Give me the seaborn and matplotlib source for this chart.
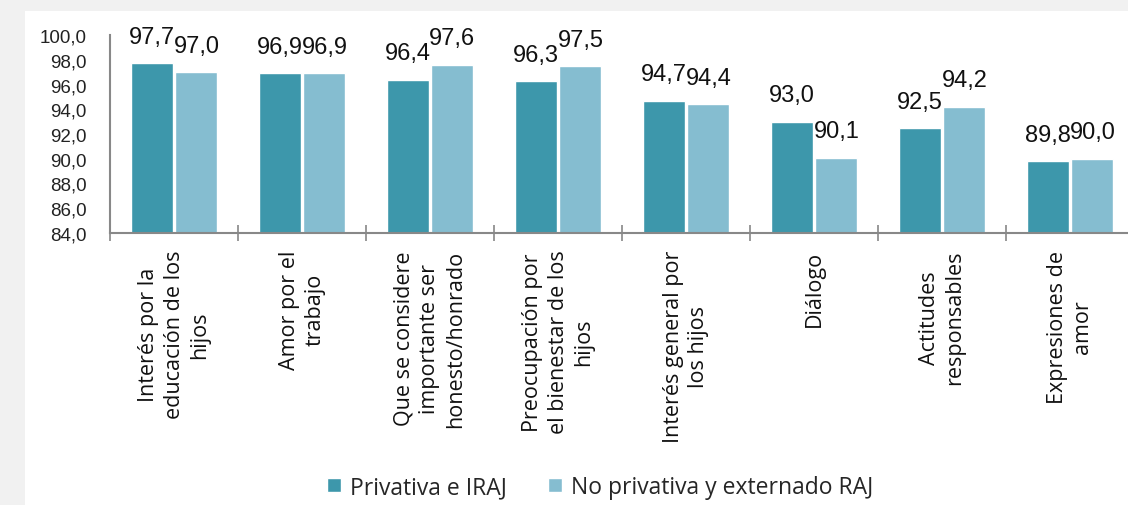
import numpy as np
import pandas as pd
import matplotlib
matplotlib.use("Agg")
import matplotlib.pyplot as plt
from matplotlib.patches import Rectangle
from matplotlib.ticker import FuncFormatter, FixedLocator
import seaborn as sns

categories = [
    "Interés por la\neducación de los\nhijos",
    "Amor por el\ntrabajo",
    "Que se considere\nimportante ser\nhonesto/honrado",
    "Preocupación por\nel bienestar de los\nhijos",
    "Interés general por\nlos hijos",
    "Diálogo",
    "Actitudes\nresponsables",
    "Expresiones de\namor",
]
series_names = ["Privativa e IRAJ", "No privativa y externado RAJ"]
privativa = [97.7, 96.9, 96.4, 96.3, 94.7, 93.0, 92.5, 89.8]
no_privativa = [97.0, 96.9, 97.6, 97.5, 94.4, 90.1, 94.2, 90.0]
colors = ["#3d97ab", "#85bdd0"]

df = pd.DataFrame({
    "cat": categories * 2,
    "grupo": [series_names[0]] * len(categories) + [series_names[1]] * len(categories),
    "valor": privativa + no_privativa,
})

sns.set_style("white")
plt.rcParams["font.family"] = ["Liberation Sans", "DejaVu Sans"]

fig = plt.figure(figsize=(11.28, 5.06), dpi=100)
fig.patch.set_facecolor("#f1f1f1")
fig.patches.append(Rectangle((25 / 1128, 0), 1, (506 - 12) / 506,
                             transform=fig.transFigure, facecolor="white",
                             edgecolor="none", zorder=-5))

ax = fig.add_axes([110 / 1128, (506 - 234) / 506, 1024 / 1128, 198 / 506])
ax.set_facecolor("none")

sns.barplot(data=df, x="cat", y="valor", hue="grupo", palette=colors,
            saturation=1, width=0.7, gap=0.06, edgecolor="white", linewidth=1,
            ax=ax, legend=True)

ax.set_ylim(84, 100)
ax.set_xlim(-0.5, 7.5)
ax.set_yticks(np.arange(84, 101, 2))
ax.yaxis.set_major_formatter(FuncFormatter(lambda v, p: f"{v:.1f}".replace(".", ",")))
ax.tick_params(axis="y", length=0, pad=17, labelsize=13.5, labelcolor="#222222")

ax.set_xlabel("")
ax.set_ylabel("")
ax.tick_params(axis="x", which="major", length=0, pad=12)
for lab in ax.get_xticklabels():
    lab.set_rotation(90)
    lab.set_fontfamily(["Open Sans", "DejaVu Sans"])
    lab.set_fontsize(15.5)
    lab.set_linespacing(1.3)
    lab.set_multialignment("center")
    lab.set_color("#111111")
ax.xaxis.set_minor_locator(FixedLocator(np.arange(-0.5, 8, 1)))
ax.tick_params(axis="x", which="minor", direction="inout", length=11,
               width=1.2, color="#888888", bottom=True)

for s in ["top", "right"]:
    ax.spines[s].set_visible(False)
for s in ["left", "bottom"]:
    ax.spines[s].set_color("#888888")
    ax.spines[s].set_linewidth(1.5)

for cont in ax.containers:
    vals = [b.get_height() for b in cont]
    ax.bar_label(cont, labels=[f"{v:.1f}".replace(".", ",") for v in vals],
                 padding=11, fontsize=17, color="#111111")

ax.legend(loc="center", bbox_to_anchor=(600 / 1128, 18 / 506),
          bbox_transform=fig.transFigure, ncol=2, frameon=False,
          prop={"family": "Open Sans", "size": 16.5}, handlelength=0.6,
          handleheight=0.6, handletextpad=0.4, columnspacing=1.8)

fig.savefig("out.png", dpi=100, facecolor=fig.get_facecolor())
